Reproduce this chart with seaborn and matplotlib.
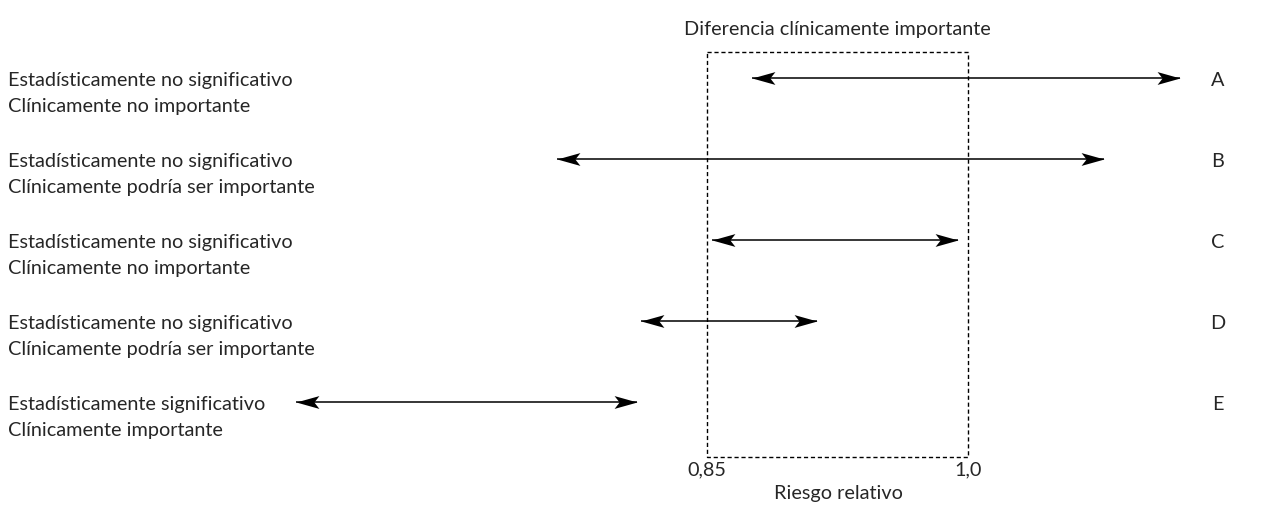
import numpy as np
import pandas as pd
import seaborn as sns
import matplotlib.pyplot as plt
from matplotlib.patches import Rectangle
from matplotlib.path import Path
import matplotlib.transforms as mtransforms

# intervalos de confianza (riesgo relativo)
letters = ["A", "B", "C", "D", "E"]
ci_low = [0.876, 0.764, 0.853, 0.812, 0.614]
ci_high = [1.122, 1.078, 0.994, 0.913, 0.810]
line1 = ["Estadísticamente no significativo"] * 4 + ["Estadísticamente significativo"]
line2 = ["Clínicamente no importante",
         "Clínicamente podría ser importante",
         "Clínicamente no importante",
         "Clínicamente podría ser importante",
         "Clínicamente importante"]
important_low, important_high = 0.85, 1.0
tick_vals = [0.85, 1.0]
tick_labels = ["0,85", "1,0"]

df = pd.DataFrame({"letter": letters, "low": ci_low, "high": ci_high,
                   "l1": line1, "l2": line2})
df["row"] = np.arange(len(df))

sns.set_theme(style="white")
plt.rcParams["font.family"] = ["Lato", "DejaVu Sans"]
FS = 14.3

fig = plt.figure(figsize=(12.81, 5.27), dpi=100)
ax = fig.add_axes([0, 70 / 527, 1, 457 / 527])

# scale: 0.85 -> 707 px, 1.0 -> 968 px
ppu = (968 - 707) / (important_high - important_low)
ax.set_xlim(important_low - 707 / ppu, important_low + (1281 - 707) / ppu)
ax.set_ylim((457 - 78) / 81, -78 / 81)

# dashed "clinically important" box
box_top = -26 / 81
ax.add_patch(Rectangle((important_low, box_top), important_high - important_low,
                       ax.get_ylim()[0] - box_top, fill=False, ls=(0, (3, 2)),
                       lw=1.0, ec="black", clip_on=False))
ax.text((important_low + important_high) / 2, -48 / 81, "Diferencia clínicamente importante",
        ha="center", va="center", fontsize=FS)

# notched (stealth) arrow heads, tip at origin
head_r = Path([(0, 0), (-1, 0.28), (-0.78, 0), (-1, -0.28), (0, 0)],
              [Path.MOVETO, Path.LINETO, Path.LINETO, Path.LINETO, Path.CLOSEPOLY])
head_l = Path([(0, 0), (1, 0.28), (0.78, 0), (1, -0.28), (0, 0)],
              [Path.MOVETO, Path.LINETO, Path.LINETO, Path.LINETO, Path.CLOSEPOLY])

ax.hlines(df["row"], df["low"], df["high"], color="black", lw=1.1)
ax.plot(df["high"], df["row"], ls="none", marker=head_r, ms=33, color="black", mew=0)
ax.plot(df["low"], df["row"], ls="none", marker=head_l, ms=33, color="black", mew=0)

trans = mtransforms.blended_transform_factory(ax.transAxes, ax.transData)
for _, r in df.iterrows():
    ax.text(8 / 1281, r["row"] - 0.07, r["l1"] + "\n" + r["l2"], transform=trans,
            ha="left", va="top", fontsize=FS, linespacing=1.6)
    ax.text(1218 / 1281, r["row"] + 0.03, r["letter"], transform=trans,
            ha="center", va="center", fontsize=FS)

ax.set_xticks(tick_vals)
ax.set_xticklabels(tick_labels, fontsize=FS)
ax.tick_params(axis="x", length=0, pad=3)
ax.set_yticks([])
ax.set_xlabel("Riesgo relativo", fontsize=FS, labelpad=3)
ax.xaxis.set_label_coords((838) / 1281, -28 / 457)
for s in ax.spines.values():
    s.set_visible(False)

fig.savefig("out.png", dpi=100)
